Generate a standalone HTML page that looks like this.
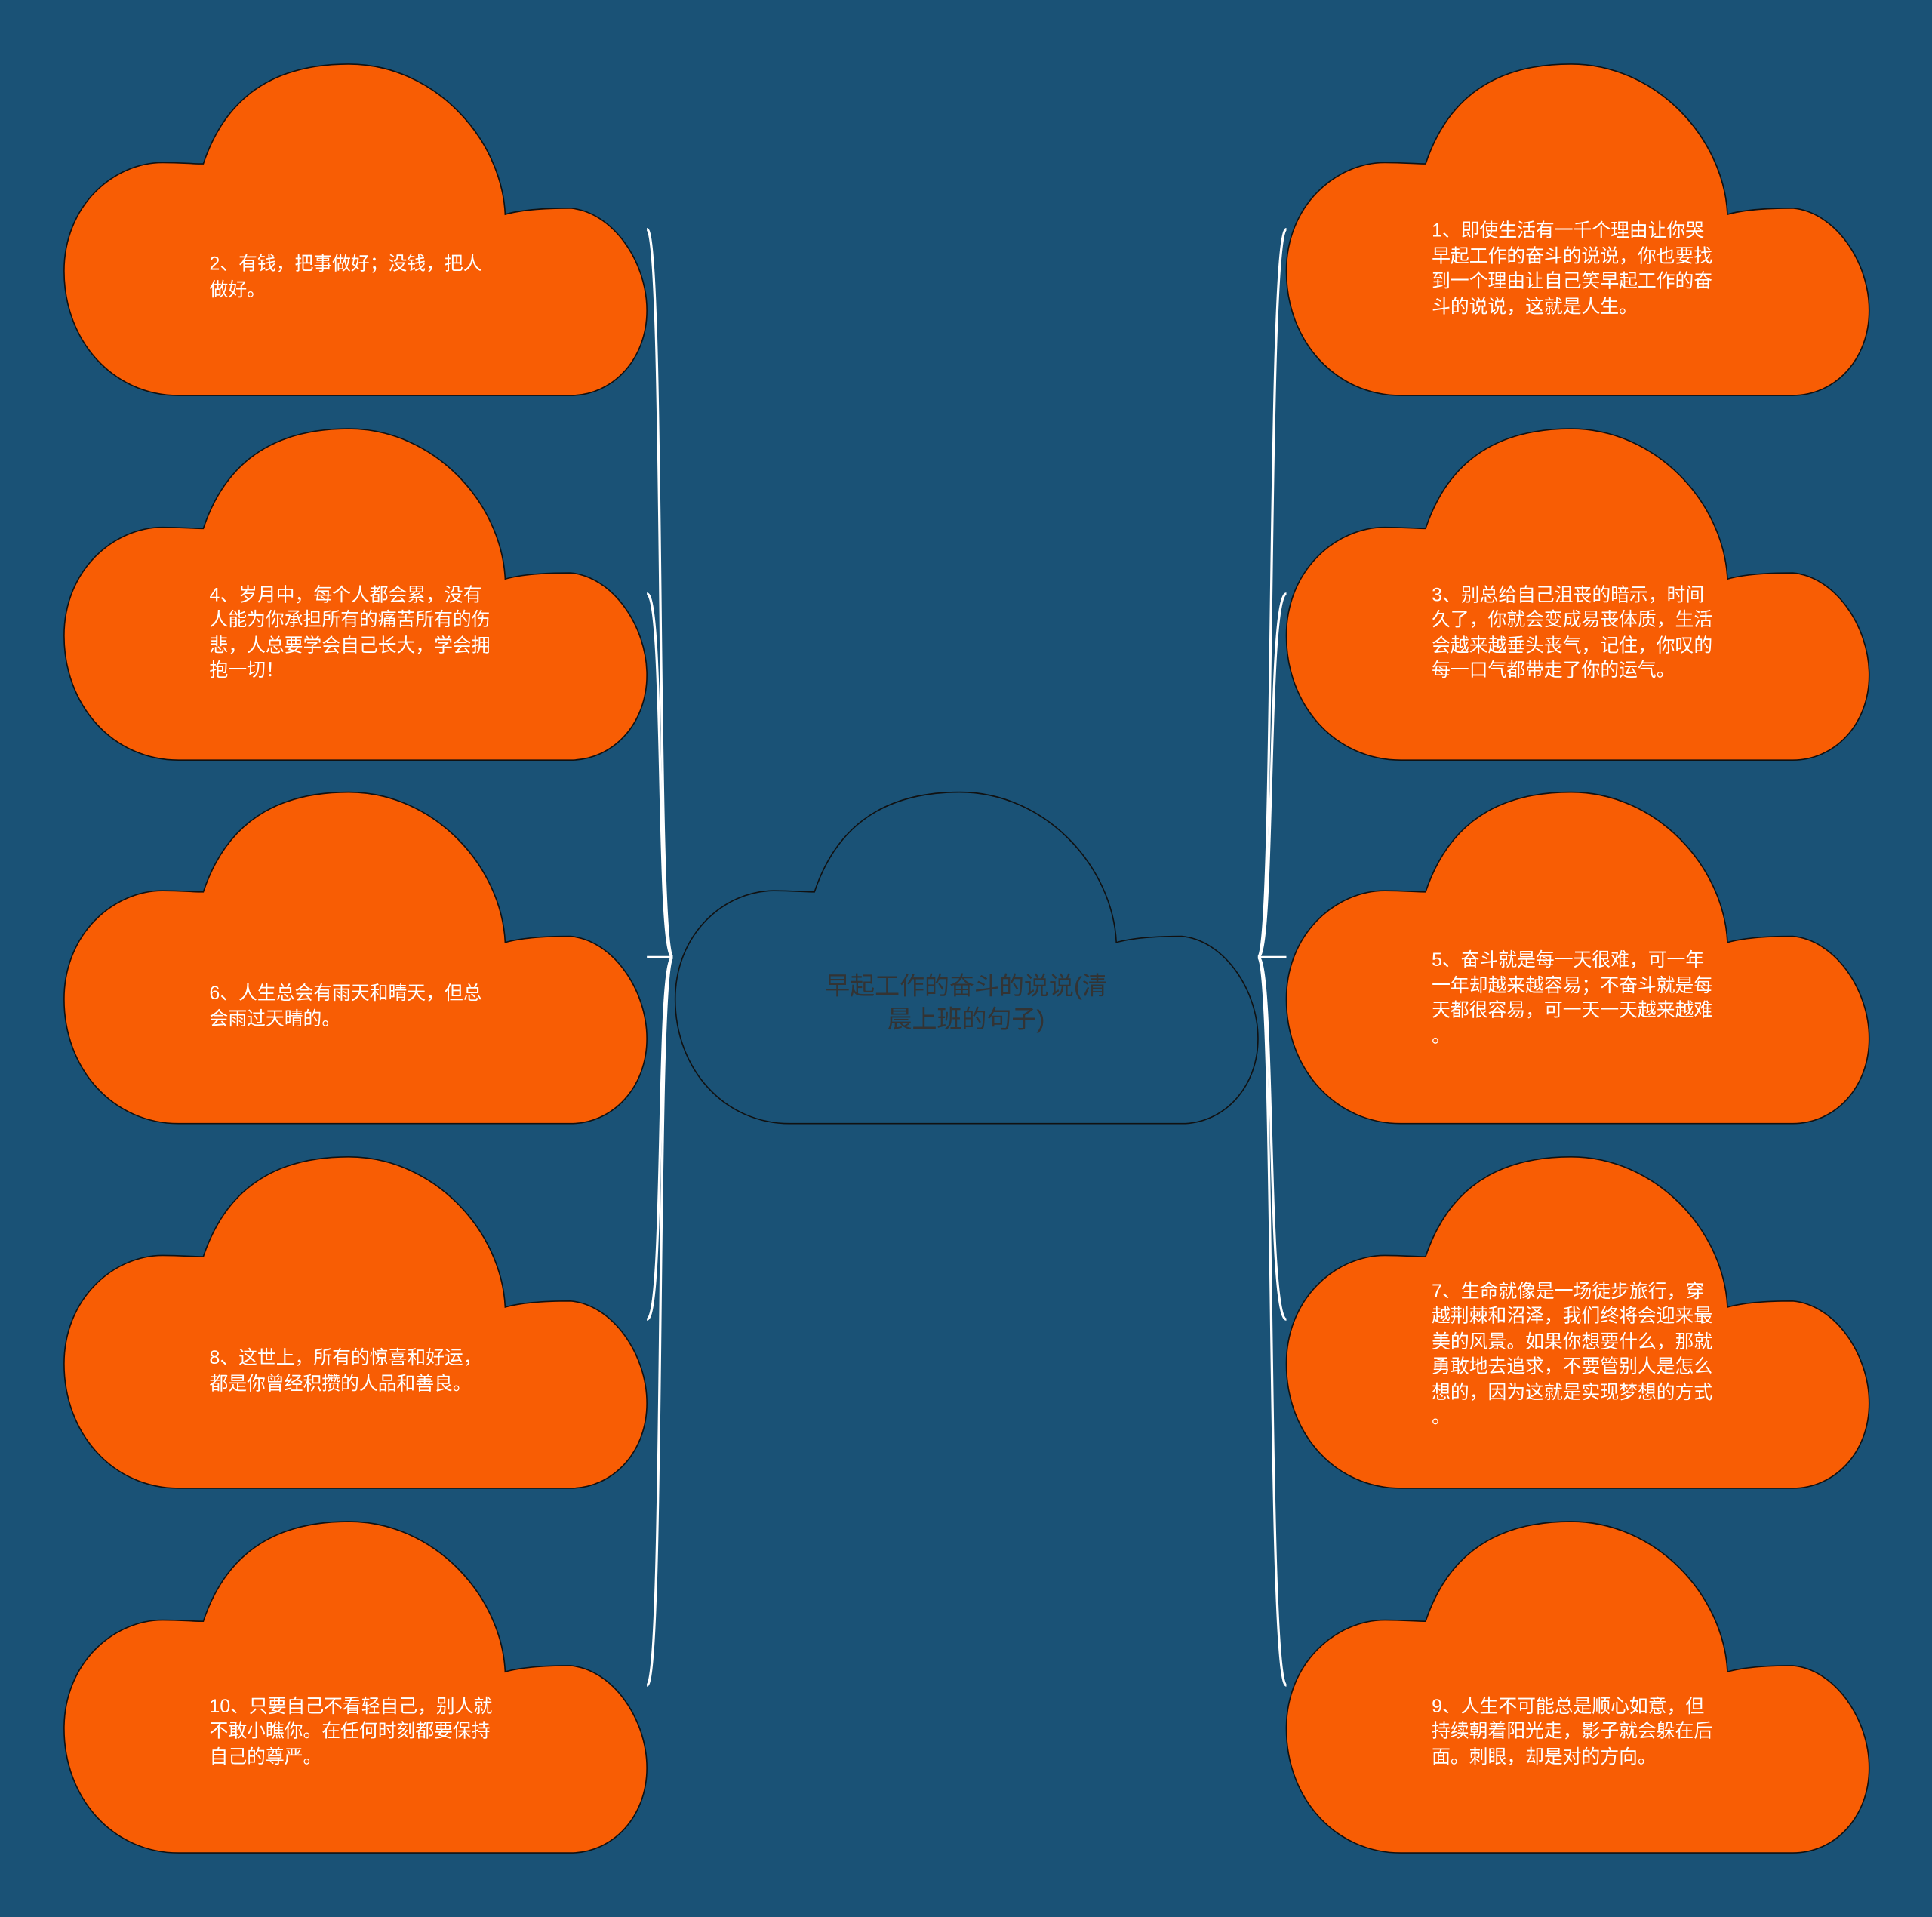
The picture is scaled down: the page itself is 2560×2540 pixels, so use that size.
<!DOCTYPE html>
<html><head><meta charset="utf-8">
<style>
html,body{margin:0;padding:0;background:#1a5276;}
svg{display:block}
text{font-family:"Liberation Sans","Noto Sans CJK SC",sans-serif;}
</style></head>
<body>
<svg width="2560" height="2540" viewBox="0 0 1568 1556" preserveAspectRatio="none" xmlns="http://www.w3.org/2000/svg">
<defs>
<path id="cl" d="M113,81 C135,15 185,0 231,0 C300,0 355,60 358,122 C372,118 392,117 411,117 C445,120 473,160 473,200 C473,240 445,269 411,269 L93,269 C40,269 0,225 0,168 C0,115 40,80 80,80 C95,80 105,81 113,81 Z"/>
</defs>
<rect width="1568" height="1556" fill="#1a5276"/>
<g fill="none" stroke="#ffffff" stroke-width="2">
<line x1="525" y1="777" x2="546" y2="777"/>
<line x1="1021" y1="777" x2="1044" y2="777"/>
<path d="M546,777 C532,777 540,186 525,186"/>
<path d="M546,777 C532,777 540,482 525,482"/>
<path d="M546,777 C532,777 540,1071 525,1071"/>
<path d="M546,777 C532,777 540,1368 525,1368"/>
<path d="M1021,777 C1035,777 1028,186 1044,186"/>
<path d="M1021,777 C1035,777 1028,482 1044,482"/>
<path d="M1021,777 C1035,777 1028,1071 1044,1071"/>
<path d="M1021,777 C1035,777 1028,1368 1044,1368"/>
</g>
<g fill="#f85d04" stroke="#111" stroke-width="1">
<use href="#cl" x="52" y="52"/>
<use href="#cl" x="52" y="348"/>
<use href="#cl" x="52" y="643"/>
<use href="#cl" x="52" y="939"/>
<use href="#cl" x="52" y="1235"/>
<use href="#cl" x="1044" y="52"/>
<use href="#cl" x="1044" y="348"/>
<use href="#cl" x="1044" y="643"/>
<use href="#cl" x="1044" y="939"/>
<use href="#cl" x="1044" y="1235"/>
</g>
<use href="#cl" x="548" y="643" fill="#1a5276" stroke="#111" stroke-width="1"/>
<g fill="#333" font-size="20.2" text-anchor="middle">
<text x="784" y="807">早起工作的奋斗的说说(清</text>
<text x="784" y="834">晨上班的句子)</text>
</g>
<g fill="#ffffff" font-size="15.2">
<text x="170" y="219">2、有钱，把事做好；没钱，把人</text>
<text x="170" y="240">做好。</text>

<text x="170" y="488">4、岁月中，每个人都会累，没有</text>
<text x="170" y="508">人能为你承担所有的痛苦所有的伤</text>
<text x="170" y="529">悲，人总要学会自己长大，学会拥</text>
<text x="170" y="549">抱一切！</text>

<text x="170" y="811">6、人生总会有雨天和晴天，但总</text>
<text x="170" y="832">会雨过天晴的。</text>

<text x="170" y="1107">8、这世上，所有的惊喜和好运，</text>
<text x="170" y="1128">都是你曾经积攒的人品和善良。</text>

<text x="170" y="1390">10、只要自己不看轻自己，别人就</text>
<text x="170" y="1410">不敢小瞧你。在任何时刻都要保持</text>
<text x="170" y="1431">自己的尊严。</text>

<text x="1162" y="192">1、即使生活有一千个理由让你哭</text>
<text x="1162" y="213">早起工作的奋斗的说说，你也要找</text>
<text x="1162" y="233">到一个理由让自己笑早起工作的奋</text>
<text x="1162" y="254">斗的说说，这就是人生。</text>

<text x="1162" y="488">3、别总给自己沮丧的暗示，时间</text>
<text x="1162" y="508">久了，你就会变成易丧体质，生活</text>
<text x="1162" y="529">会越来越垂头丧气，记住，你叹的</text>
<text x="1162" y="549">每一口气都带走了你的运气。</text>

<text x="1162" y="784">5、奋斗就是每一天很难，可一年</text>
<text x="1162" y="805">一年却越来越容易；不奋斗就是每</text>
<text x="1162" y="825">天都很容易，可一天一天越来越难</text>
<text x="1162" y="846">。</text>

<text x="1162" y="1053">7、生命就像是一场徒步旅行，穿</text>
<text x="1162" y="1073">越荆棘和沼泽，我们终将会迎来最</text>
<text x="1162" y="1094">美的风景。如果你想要什么，那就</text>
<text x="1162" y="1114">勇敢地去追求，不要管别人是怎么</text>
<text x="1162" y="1135">想的，因为这就是实现梦想的方式</text>
<text x="1162" y="1155">。</text>

<text x="1162" y="1390">9、人生不可能总是顺心如意，但</text>
<text x="1162" y="1410">持续朝着阳光走，影子就会躲在后</text>
<text x="1162" y="1431">面。刺眼，却是对的方向。</text>
</g>
</svg>
</body></html>
